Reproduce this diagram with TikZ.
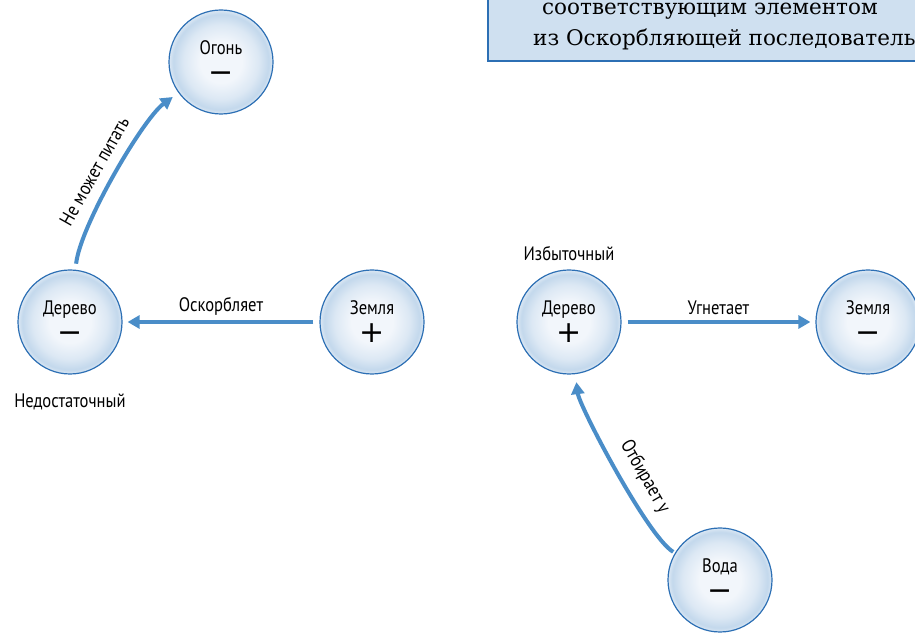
\documentclass[tikz,border=0pt]{standalone}
\usepackage{fontspec}
\setmainfont[FakeStretch=0.85]{PT Sans}
\newfontfamily\boxfont{DejaVu Serif}
\newfontfamily\signfont{DejaVu Sans}
\usetikzlibrary{positioning,arrows.meta}
\definecolor{arrowblue}{HTML}{4A8DC8}
\definecolor{rimblue}{HTML}{2C6FB4}
\definecolor{boxblue}{HTML}{CFE0F0}
\definecolor{ballin}{HTML}{F2F6FB}
\definecolor{ballmid}{HTML}{DCE8F4}
\definecolor{ballout}{HTML}{C3D8EC}
\pgfdeclareradialshading{elemshade}{\pgfpoint{0bp}{0bp}}{color(0bp)=(ballin); color(10bp)=(ballin); color(18bp)=(ballmid); color(23bp)=(ballout); color(25bp)=(ballmid); color(50bp)=(ballmid)}
\newcommand{\signplus}{{\signfont\fontsize{30}{28}\selectfont +}}
\newcommand{\signminus}{{\signfont\fontsize{30}{28}\selectfont −}}
\begin{document}
\begin{tikzpicture}[x=1pt, y=1pt,
    elem/.style={circle, minimum size=104pt, inner sep=0pt, draw=rimblue, line width=1.2pt,
        shading=elemshade, align=center, font=\fontsize{19.5}{28}\selectfont,
        execute at begin node=\rule{0pt}{22pt}},
    link/.style={draw=arrowblue, line width=4pt, -{Triangle[length=12pt, width=13pt]},
        shorten <=6pt, shorten >=5pt},
    tag/.style={font=\fontsize{19.5}{22}\selectfont, inner sep=2pt},
    note/.style={anchor=base west, inner sep=0pt, font=\boxfont\fontsize{21.5}{21.5}\selectfont}]
\useasboundingbox (0,0) rectangle (915,634);
\clip (0,0) rectangle (915,634);
% note box, cut by the page edge
\draw[fill=boxblue, draw=rimblue, line width=1.2pt] (488,573) rectangle (960,660);
\node[note] (line1) at (542,619) {соответствующим элементом};
\node[note] (line2) at (533,588) {из Оскорбляющей последовательности};
% left: insult
\node[elem] (ogon) at (221,572) {Огонь\\\signminus};
\node[elem] (derL) at (70,312) {Дерево\\\signminus};
\node[elem] (zemL) at (372,312) {Земля\\\signplus};
\node[tag, below=17pt of derL] (weak) {Недостаточный};
\draw[link] (zemL) -- node[tag, above=3pt] {Оскорбляет} (derL);
\draw[link, shorten >=7pt] (derL) to[out=84, in=216, looseness=0.55] node[tag, sloped, above=9pt, pos=0.47] {Не может питать} (ogon);
% right: overacting
\node[elem] (derR) at (569,312) {Дерево\\\signplus};
\node[elem] (zemR) at (868,312) {Земля\\\signminus};
\node[elem] (voda) at (720,54) {Вода\\\signminus};
\node[tag, above=6pt of derR] (strong) {Избыточный};
\draw[link] (derR) -- node[tag, above=3pt] {Угнетает} (zemR);
\draw[link, shorten <=2pt, shorten >=8pt] (voda) to[out=149, in=277, looseness=0.4] node[tag, sloped, above=8pt, pos=0.42] {Отбирает у} (derR);
\end{tikzpicture}
\end{document}
